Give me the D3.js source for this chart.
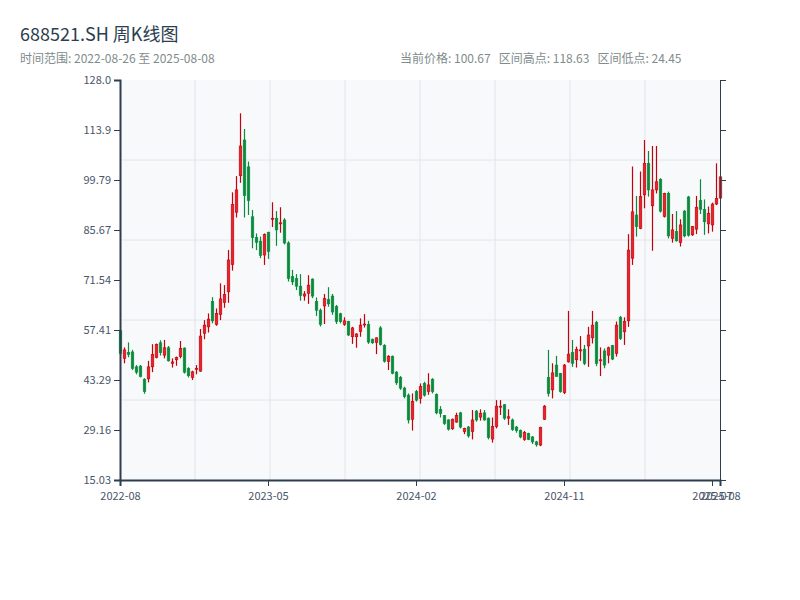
<!DOCTYPE html>
<html>
<head>
<meta charset="utf-8">
<script src="https://cdn.jsdelivr.net/npm/d3@7"></script>
<style>
  body { margin: 0; background: #fff; }
  text { font-family: "Noto Sans CJK SC", "Noto Sans", sans-serif; }
</style>
</head>
<body>
<svg id="chart"></svg>
<script>
// weekly bars, 688521.SH
const dates = [
  "2022-08-26","2022-09-02","2022-09-09","2022-09-16","2022-09-23","2022-09-30","2022-10-14","2022-10-21","2022-10-28","2022-11-04",
  "2022-11-11","2022-11-18","2022-11-25","2022-12-02","2022-12-09","2022-12-16","2022-12-23","2022-12-30","2023-01-06","2023-01-13",
  "2023-01-20","2023-02-03","2023-02-10","2023-02-17","2023-02-24","2023-03-03","2023-03-10","2023-03-17","2023-03-24","2023-03-31",
  "2023-04-07","2023-04-14","2023-04-21","2023-04-28","2023-05-05","2023-05-12","2023-05-19","2023-05-26","2023-06-02","2023-06-09",
  "2023-06-16","2023-06-21","2023-06-30","2023-07-07","2023-07-14","2023-07-21","2023-07-28","2023-08-04","2023-08-11","2023-08-18",
  "2023-08-25","2023-09-01","2023-09-08","2023-09-15","2023-09-22","2023-09-28","2023-10-13","2023-10-20","2023-10-27","2023-11-03",
  "2023-11-10","2023-11-17","2023-11-24","2023-12-01","2023-12-08","2023-12-15","2023-12-22","2023-12-29","2024-01-05","2024-01-12",
  "2024-01-19","2024-01-26","2024-02-02","2024-02-08","2024-02-23","2024-03-01","2024-03-08","2024-03-15","2024-03-22","2024-03-29",
  "2024-04-03","2024-04-12","2024-04-19","2024-04-26","2024-04-30","2024-05-10","2024-05-17","2024-05-24","2024-05-31","2024-06-07",
  "2024-06-14","2024-06-21","2024-06-28","2024-07-05","2024-07-12","2024-07-19","2024-07-26","2024-08-02","2024-08-09","2024-08-16",
  "2024-08-23","2024-08-30","2024-09-06","2024-09-13","2024-09-20","2024-09-27","2024-09-30","2024-10-11","2024-10-18","2024-10-25",
  "2024-11-01","2024-11-08","2024-11-15","2024-11-22","2024-11-29","2024-12-06","2024-12-13","2024-12-20","2024-12-27","2025-01-03",
  "2025-01-10","2025-01-17","2025-01-24","2025-01-27","2025-02-07","2025-02-14","2025-02-21","2025-02-28","2025-03-07","2025-03-14",
  "2025-03-21","2025-03-28","2025-04-03","2025-04-11","2025-04-18","2025-04-25","2025-04-30","2025-05-09","2025-05-16","2025-05-23",
  "2025-05-30","2025-06-06","2025-06-13","2025-06-20","2025-06-27","2025-07-04","2025-07-11","2025-07-18","2025-07-25","2025-08-01",
  "2025-08-08"
];

const opens = [
  57.2, 49.4, 51.1, 51.2, 47.0, 47.2, 43.5, 43.6, 47.0, 49.6,
  53.8, 50.3, 52.4, 48.0, 49.0, 49.9, 52.3, 46.5, 44.0, 46.3,
  45.8, 56.5, 58.3, 65.5, 59.0, 61.8, 65.2, 68.2, 75.9, 90.7,
  101.0, 111.1, 103.5, 89.4, 83.5, 82.5, 78.6, 85.0, 88.7, 89.0,
  87.4, 88.5, 82.0, 72.5, 72.0, 69.8, 67.0, 67.8, 71.8, 65.5,
  63.0, 64.2, 66.0, 67.0, 64.0, 62.0, 59.0, 59.8, 55.5, 55.5,
  57.0, 59.0, 59.0, 54.8, 53.9, 58.0, 53.0, 48.5, 50.0, 45.5,
  44.0, 41.0, 39.0, 32.2, 40.0, 38.1, 42.3, 40.0, 43.5, 39.2,
  35.0, 33.2, 32.0, 29.5, 31.4, 34.0, 28.7, 30.0, 28.7, 34.5,
  32.8, 34.0, 32.5, 26.6, 30.1, 35.6, 36.3, 32.5, 32.0, 30.0,
  29.0, 26.5, 28.2, 27.2, 25.8, 24.9, 32.2, 44.0, 40.5, 47.5,
  45.1, 39.7, 48.4, 51.0, 49.0, 51.5, 52.0, 52.9, 55.2, 59.5,
  48.7, 51.5, 50.3, 53.0, 50.8, 61.0, 56.9, 60.0, 77.7, 89.9,
  86.1, 95.6, 104.5, 92.5, 97.0, 100.0, 89.5, 96.0, 83.3, 85.2,
  82.1, 91.0, 95.0, 84.3, 85.9, 94.0, 91.5, 87.4, 87.1, 93.0,
  94.7
];

const highs = [
  57.6, 52.5, 53.9, 51.8, 47.5, 47.5, 43.8, 48.7, 53.4, 53.6,
  54.5, 54.6, 52.9, 49.4, 49.9, 54.3, 52.5, 46.9, 45.9, 47.5,
  57.7, 60.2, 62.1, 66.7, 63.5, 70.6, 70.1, 80.0, 96.3, 100.9,
  118.63, 114.2, 105.0, 91.3, 84.7, 83.8, 84.7, 85.2, 93.5, 91.0,
  92.1, 89.0, 82.5, 74.4, 73.2, 73.2, 68.4, 72.9, 72.0, 66.6,
  63.5, 67.6, 69.5, 67.6, 64.5, 62.3, 61.0, 60.0, 58.3, 56.5,
  60.7, 61.9, 60.0, 55.0, 55.3, 58.5, 53.4, 50.3, 50.2, 45.8,
  44.4, 41.4, 39.5, 39.5, 40.5, 42.3, 42.8, 45.2, 43.8, 39.5,
  35.9, 33.4, 32.2, 32.4, 34.05, 34.3, 29.8, 30.3, 34.8, 34.8,
  35.0, 34.8, 32.7, 32.7, 37.6, 37.6, 36.5, 35.0, 32.4, 30.3,
  29.3, 28.9, 28.4, 27.45, 26.1, 30.1, 36.2, 51.8, 48.0, 50.1,
  45.3, 47.8, 62.8, 54.6, 52.7, 55.7, 53.2, 58.3, 62.8, 60.0,
  52.5, 52.2, 52.7, 53.2, 59.8, 61.4, 61.0, 84.5, 103.6, 95.3,
  102.2, 111.1, 108.0, 109.4, 109.4, 100.3, 96.2, 96.5, 90.2, 91.0,
  88.7, 91.3, 95.3, 86.8, 95.3, 100.0, 94.3, 92.3, 93.4, 104.5,
  101.0
];

const lows = [
  50.5, 48.0, 49.7, 46.1, 44.9, 44.0, 39.4, 42.6, 45.5, 49.4,
  50.2, 49.4, 48.5, 46.8, 47.3, 49.4, 45.1, 44.0, 43.3, 44.9,
  45.6, 54.8, 56.7, 59.3, 58.6, 60.2, 63.7, 65.1, 74.2, 89.2,
  99.0, 89.2, 89.9, 80.5, 80.0, 77.7, 75.8, 77.5, 86.5, 81.2,
  84.9, 81.6, 71.1, 70.1, 68.7, 65.7, 65.7, 64.8, 66.4, 61.4,
  58.4, 59.1, 64.0, 61.7, 59.1, 59.3, 58.6, 55.7, 53.5, 52.4,
  55.5, 58.1, 53.5, 53.5, 50.6, 53.0, 48.2, 46.1, 44.9, 41.9,
  40.5, 38.1, 31.0, 29.0, 37.2, 36.6, 38.6, 39.1, 39.5, 33.6,
  32.7, 30.6, 29.0, 29.2, 31.2, 29.6, 28.0, 27.0, 26.5, 31.5,
  31.8, 31.8, 26.5, 25.6, 29.6, 33.4, 32.0, 30.6, 28.9, 28.4,
  26.8, 26.1, 26.3, 25.2, 24.45, 24.6, 32.0, 38.6, 38.1, 44.2,
  39.7, 39.3, 48.2, 47.0, 46.8, 48.7, 47.5, 47.0, 53.6, 47.2,
  44.4, 46.6, 48.0, 48.9, 49.9, 54.6, 53.2, 58.3, 75.8, 83.8,
  85.9, 91.8, 95.1, 79.8, 96.0, 90.6, 89.2, 83.3, 82.1, 82.4,
  81.0, 83.6, 83.8, 84.0, 84.5, 90.2, 84.3, 84.7, 85.2, 92.7,
  94.5
];

const closes = [
  50.8, 51.8, 50.5, 46.6, 45.5, 44.3, 40.0, 47.0, 50.5, 53.3,
  51.0, 52.4, 48.7, 48.4, 49.6, 52.2, 45.5, 44.5, 45.6, 46.6,
  55.7, 58.8, 60.5, 60.0, 62.1, 66.2, 67.5, 77.2, 92.9, 97.0,
  109.4, 95.4, 94.0, 83.5, 82.2, 78.5, 84.4, 79.6, 89.0, 85.7,
  87.7, 82.0, 72.0, 71.0, 69.8, 67.2, 67.6, 70.1, 67.0, 63.0,
  59.0, 66.3, 64.8, 62.5, 59.8, 59.8, 60.0, 56.0, 58.0, 56.3,
  58.8, 59.1, 54.0, 53.8, 55.2, 53.3, 48.6, 50.0, 45.2, 42.5,
  41.0, 38.6, 32.0, 37.2, 37.6, 41.4, 39.0, 41.9, 40.0, 34.0,
  33.8, 31.0, 29.4, 32.2, 33.3, 30.0, 29.6, 27.5, 32.0, 32.0,
  33.9, 32.0, 27.0, 30.1, 35.9, 35.9, 32.5, 32.9, 29.3, 29.0,
  27.2, 28.4, 26.5, 25.8, 25.0, 29.9, 35.9, 39.5, 45.3, 44.3,
  40.0, 47.5, 50.6, 48.0, 51.9, 51.8, 48.0, 56.0, 58.8, 48.0,
  49.0, 47.5, 52.4, 49.2, 58.8, 55.0, 59.8, 80.0, 90.8, 86.6,
  95.1, 104.5, 97.0, 97.0, 99.3, 91.0, 96.0, 84.0, 85.7, 82.6,
  87.1, 84.0, 84.2, 86.6, 92.1, 91.5, 88.0, 90.4, 93.0, 94.6,
  100.67
];

// which bars get a date label on the x axis
const xTickIndex = [0, 37, 74, 111, 148, 150];

const W = 800, H = 600;
const margin = {top: 80, right: 80, bottom: 120, left: 120};
const width = W - margin.left - margin.right;
const height = H - margin.top - margin.bottom;

const upColor = "#e8232b", upStroke = "#c4000b";
const downColor = "#0b8a3c";

const data = dates.map((d, i) => ({
  date: d, open: opens[i], high: highs[i], low: lows[i], close: closes[i]
}));

const hi = d3.max(highs), lo = d3.min(lows);
const pad = (hi - lo) * 0.1;

const x = d3.scaleLinear().domain([0, data.length - 1]).range([0, width]);
const y = d3.scaleLinear().domain([lo - pad, hi + pad]).range([height, 0]);

const svg = d3.select("#chart")
  .attr("width", W)
  .attr("height", H)
  .style("background", "#fff");

// header
svg.append("text")
  .attr("x", 20).attr("y", 41)
  .attr("font-size", 18)
  .attr("fill", "#2c3e50")
  .text("688521.SH 周K线图");

svg.append("text")
  .attr("x", 20).attr("y", 63)
  .attr("font-size", 12)
  .attr("fill", "#7f8c8d")
  .text("时间范围: " + dates[0] + " 至 " + dates[dates.length - 1]);

svg.append("text")
  .attr("x", 400).attr("y", 63)
  .attr("font-size", 12)
  .attr("fill", "#7f8c8d")
  .style("white-space", "pre")
  .text("当前价格: " + closes[closes.length - 1].toFixed(2) +
        "   区间高点: " + hi.toFixed(2) +
        "   区间低点: " + lo.toFixed(2));

const g = svg.append("g")
  .attr("transform", "translate(" + margin.left + "," + margin.top + ")");

g.append("rect")
  .attr("width", width)
  .attr("height", height)
  .attr("fill", "#f7f9fb");

// grid
g.append("g").selectAll("line")
  .data(d3.range(1, 5))
  .join("line")
  .attr("x1", 0).attr("x2", width)
  .attr("y1", k => k * height / 5).attr("y2", k => k * height / 5)
  .attr("stroke", "#e1e5ea");

g.append("g").selectAll("line")
  .data(d3.range(1, 8))
  .join("line")
  .attr("y1", 0).attr("y2", height)
  .attr("x1", k => k * width / 8).attr("x2", k => k * width / 8)
  .attr("stroke", "#e1e5ea");

// candles
const step = width / (data.length - 1);
const bodyW = step * 0.65;

const candle = g.append("g").selectAll("g")
  .data(data)
  .join("g");

candle.append("line")
  .attr("x1", (d, i) => x(i) + 0.5).attr("x2", (d, i) => x(i) + 0.5)
  .attr("y1", d => y(d.high)).attr("y2", d => y(d.low))
  .attr("stroke", d => d.close >= d.open ? upStroke : downColor)
  .attr("stroke-width", 1.2);

candle.append("rect")
  .attr("x", (d, i) => x(i) + 0.5 - bodyW / 2)
  .attr("y", d => y(Math.max(d.open, d.close)))
  .attr("width", bodyW)
  .attr("height", d => Math.max(1, Math.abs(y(d.open) - y(d.close))))
  .attr("fill", d => d.close >= d.open ? upColor : downColor)
  .attr("stroke", d => d.close >= d.open ? upStroke : downColor)
  .attr("stroke-width", 0.6);

// axes
const yTicks = d3.range(9).map(k => y.domain()[0] + k * (y.domain()[1] - y.domain()[0]) / 8);

const yAxis = g.append("g")
  .call(d3.axisLeft(y).tickValues(yTicks).tickFormat(d3.format(".4r")));

const yAxisR = g.append("g")
  .attr("transform", "translate(" + width + ",0)")
  .call(d3.axisRight(y).tickValues(yTicks).tickFormat(""));

const xAxis = g.append("g")
  .attr("transform", "translate(0," + height + ")")
  .call(d3.axisBottom(x).tickValues(xTickIndex).tickPadding(6)
    .tickFormat(i => dates[i].slice(0, 7)));

[yAxis, yAxisR, xAxis].forEach(a => {
  a.selectAll("path, line").attr("stroke", "#2c3e50");
  a.selectAll("text")
    .attr("fill", "#4a5568")
    .attr("font-size", 11)
    .style("font-family", '"Noto Sans CJK SC", "Noto Sans", sans-serif');
});
yAxis.select(".domain").attr("stroke-width", 2);
xAxis.select(".domain").attr("stroke-width", 2);
</script>
</body>
</html>
